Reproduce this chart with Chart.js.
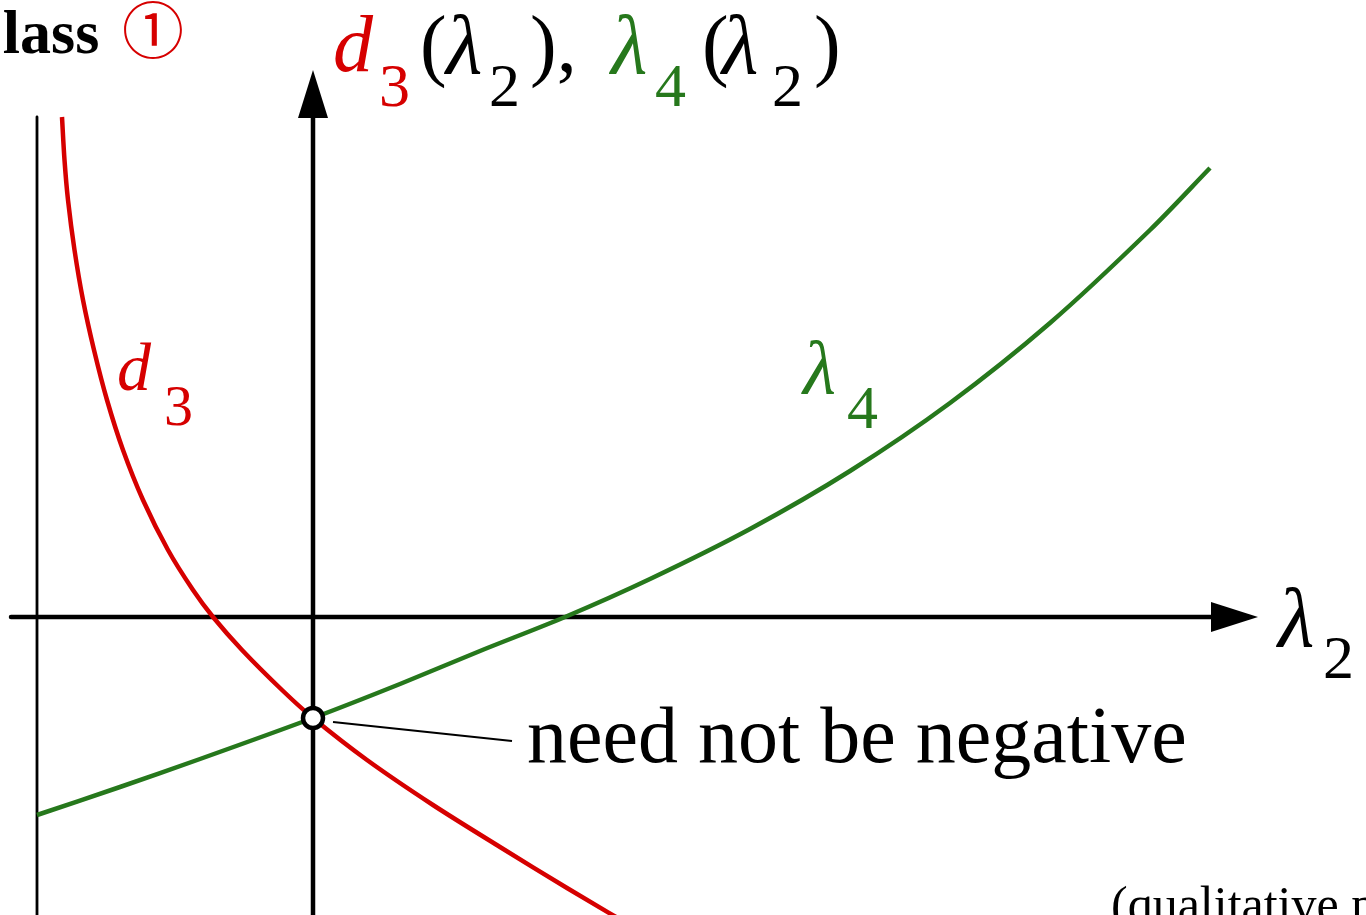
<!DOCTYPE html>
<html>
<head>
<meta charset="utf-8">
<script src="https://cdn.jsdelivr.net/npm/chart.js@4"></script>
<style>
  html, body { margin: 0; padding: 0; background: #fff; overflow: hidden; }
  #plot { display: block; }
</style>
</head>
<body>
<canvas id="plot" width="1366" height="915"></canvas>
<script>
// lambda_2 positions and curve values (qualitative units, origin at the axes crossing)
const d3X = [-2.51, -2.485, -2.45, -2.385, -2.30, -2.19, -2.06, -1.90, -1.70, -1.45, -1.20, -1.00, -0.71, -0.31, 0.00, 0.54, 1.20, 1.87, 2.54, 3.37];
const d3Y = [5.00, 4.57, 4.17, 3.67, 3.17, 2.67, 2.17, 1.67, 1.17, 0.67, 0.27, 0.00, -0.33, -0.73, -1.01, -1.43, -1.88, -2.30, -2.71, -3.20];
const l4X = [-2.76, -1.93, -1.13, 0.00, 0.87, 1.67, 2.52, 3.37, 4.37, 5.37, 6.37, 7.37, 8.37, 8.97];
const l4Y = [-1.98, -1.70, -1.42, -1.01, -0.67, -0.34, 0.00, 0.38, 0.88, 1.46, 2.14, 2.94, 3.87, 4.49];
// the crossing point at lambda_2 = 0
const markX = [0];
const markY = [-1.01];
// left edge of the lambda_2 range
const leftBound = -2.76;
const leftBoundTop = 5.00;

const RED = '#d60000';
const GREEN = '#26781c';

function toPoints(xs, ys) {
    return xs.map((x, i) => ({ x: x, y: ys[i] }));
}

// axes with arrowheads, boundary line, leader line and all labels
const decorations = {
    id: 'decorations',
    beforeDatasetsDraw(chart) {
        const ctx = chart.ctx;
        const xs = chart.scales.x, ys = chart.scales.y;
        const x0 = xs.getPixelForValue(0), y0 = ys.getPixelForValue(0);
        ctx.save();
        ctx.strokeStyle = '#000';
        ctx.fillStyle = '#000';
        ctx.lineCap = 'round';

        // thin boundary line
        const bx = xs.getPixelForValue(leftBound);
        ctx.lineWidth = 2.8;
        ctx.beginPath();
        ctx.moveTo(bx, ys.getPixelForValue(leftBoundTop));
        ctx.lineTo(bx, chart.height + 5);
        ctx.stroke();

        // horizontal axis
        ctx.lineWidth = 4.5;
        ctx.beginPath();
        ctx.moveTo(11, y0);
        ctx.lineTo(1214, y0);
        ctx.stroke();
        ctx.beginPath();
        ctx.moveTo(1258, y0);
        ctx.lineTo(1211, y0 - 15);
        ctx.lineTo(1211, y0 + 15);
        ctx.closePath();
        ctx.fill();

        // vertical axis
        ctx.lineCap = 'butt';
        ctx.beginPath();
        ctx.moveTo(x0, chart.height + 5);
        ctx.lineTo(x0, 115);
        ctx.stroke();
        ctx.beginPath();
        ctx.moveTo(x0, 70);
        ctx.lineTo(x0 - 15, 118);
        ctx.lineTo(x0 + 15, 118);
        ctx.closePath();
        ctx.fill();
        ctx.restore();
    },
    afterDatasetsDraw(chart) {
        const ctx = chart.ctx;
        const xs = chart.scales.x, ys = chart.scales.y;
        const px = xs.getPixelForValue(markX[0]), py = ys.getPixelForValue(markY[0]);
        ctx.save();

        // leader from the crossing point to its note
        ctx.strokeStyle = '#000';
        ctx.lineWidth = 2.2;
        ctx.beginPath();
        ctx.moveTo(px + 20, py + 4);
        ctx.lineTo(px + 199, py + 23);
        ctx.stroke();

        const serif = '"Liberation Serif", "Times New Roman", serif';
        ctx.textBaseline = 'alphabetic';
        ctx.textAlign = 'left';
        function put(text, x, y, size, color, style) {
            ctx.font = [style, size + 'px', serif].filter(Boolean).join(' ');
            ctx.fillStyle = color;
            ctx.fillText(text, x, y);
        }

        // heading, cut at the left edge
        put('Class', -42, 53, 62, '#000', 'bold');
        ctx.font = '62px "Noto Sans CJK JP", "DejaVu Sans", sans-serif';
        ctx.fillStyle = RED;
        ctx.textAlign = 'center';
        ctx.textBaseline = 'middle';
        ctx.fillText('\u2460', 153, 30);
        ctx.textAlign = 'left';
        ctx.textBaseline = 'alphabetic';

        // vertical axis title
        put('d', 333, 71, 80, RED, 'italic');
        put('3', 379, 106, 62, RED);
        put('(', 420, 71, 80, '#000');
        put('\u03bb', 446, 73, 84, '#000', 'italic');
        put('2', 489, 106, 62, '#000');
        put('),', 530, 71, 80, '#000');
        put('\u03bb', 611, 73, 84, GREEN, 'italic');
        put('4', 655, 106, 62, GREEN);
        put('(', 702, 71, 80, '#000');
        put('\u03bb', 722, 73, 84, '#000', 'italic');
        put('2', 772, 106, 62, '#000');
        put(')', 814, 71, 80, '#000');

        // horizontal axis title
        put('\u03bb', 1278, 646, 84, '#000', 'italic');
        put('2', 1323, 678, 62, '#000');

        // curve labels
        put('d', 117, 390, 68, RED, 'italic');
        put('3', 164, 425, 58, RED);
        put('\u03bb', 803, 394, 76, GREEN, 'italic');
        put('4', 847, 428, 62, GREEN);

        // notes
        put('need not be negative', 527, 762, 80, '#000');
        put('(qualitative plot)', 1111, 921, 50, '#000');
        ctx.restore();
    }
};

new Chart(document.getElementById('plot'), {
    type: 'scatter',
    data: {
        datasets: [
            {
                label: 'd3',
                data: toPoints(d3X, d3Y),
                showLine: true,
                borderColor: RED,
                borderWidth: 4.5,
                pointRadius: 0,
                tension: 0.3,
                order: 2
            },
            {
                label: 'lambda4',
                data: toPoints(l4X, l4Y),
                showLine: true,
                borderColor: GREEN,
                borderWidth: 4.5,
                pointRadius: 0,
                tension: 0.3,
                order: 2
            },
            {
                label: 'crossing',
                data: toPoints(markX, markY),
                pointRadius: 10,
                pointBackgroundColor: '#fff',
                pointBorderColor: '#000',
                pointBorderWidth: 4.5,
                order: 1
            }
        ]
    },
    options: {
        responsive: false,
        animation: false,
        layout: { padding: 0, autoPadding: false },
        scales: {
            x: { type: 'linear', min: -3.13, max: 10.53, display: false },
            y: { type: 'linear', min: -2.98, max: 6.17, display: false }
        },
        plugins: {
            legend: { display: false },
            tooltip: { enabled: false }
        }
    },
    plugins: [decorations]
});
</script>
</body>
</html>
